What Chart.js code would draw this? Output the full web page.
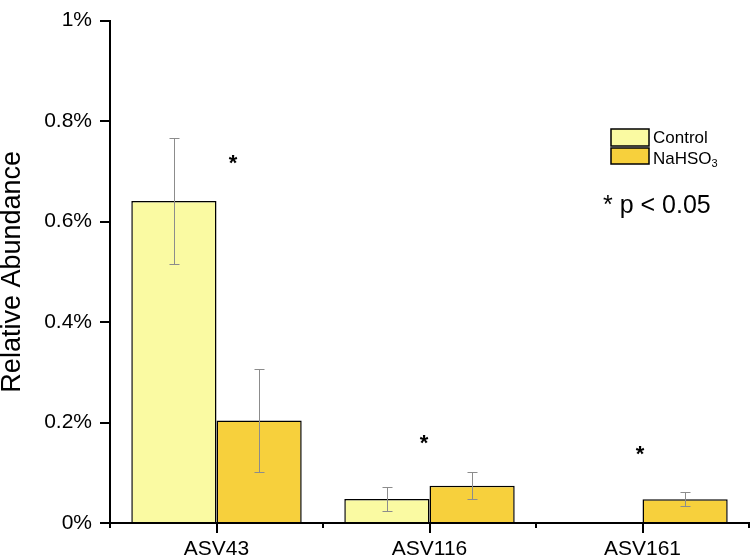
<!DOCTYPE html>
<html>
<head>
<meta charset="utf-8">
<script src="https://cdn.jsdelivr.net/npm/chart.js@4.4.0/dist/chart.umd.min.js"></script>
<style>
  html, body { margin: 0; padding: 0; background: #fff; }
  #wrap { width: 750px; height: 558px; }
</style>
</head>
<body>
<div id="wrap"><canvas id="grafico" width="750" height="558"></canvas></div>
<script>
// Datos (abundancia relativa en %)
const categorias = ['ASV43', 'ASV116', 'ASV161'];
const control = [0.641, 0.048, null];
const controlErr = [0.126, 0.024, null];
const nahso3 = [0.204, 0.074, 0.0475];
const nahso3Err = [0.103, 0.027, 0.0145];
const yTicks = [0, 0.2, 0.4, 0.6, 0.8, 1];
const estrellas = [0.716, 0.16, 0.137]; // altura de los asteriscos
const series = ['Control', 'NaHSO3'];

const FUENTE = '"Liberation Sans", Arial, sans-serif';
const colores = ['#fafaa2', '#f7d03c'];
const errores = [controlErr, nahso3Err];

// barras de error + asteriscos
const extras = {
    id: 'extras',
    afterDatasetsDraw(chart) {
        const ctx = chart.ctx;
        const y = chart.scales.y;
        const x = chart.scales.x;
        ctx.save();
        ctx.strokeStyle = '#8c8c8c';
        ctx.lineWidth = 1;
        chart.data.datasets.forEach((ds, i) => {
            const meta = chart.getDatasetMeta(i);
            meta.data.forEach((bar, j) => {
                const v = ds.data[j];
                const e = errores[i][j];
                if (v == null || e == null) return;
                const px = Math.round(bar.x) + 0.5;
                const yt = Math.round(y.getPixelForValue(v + e)) + 0.5;
                const yb = Math.round(y.getPixelForValue(v - e)) + 0.5;
                ctx.beginPath();
                ctx.moveTo(px, yt); ctx.lineTo(px, yb);
                ctx.moveTo(px - 5, yt); ctx.lineTo(px + 5, yt);
                ctx.moveTo(px - 5, yb); ctx.lineTo(px + 5, yb);
                ctx.stroke();
            });
        });

        // asteriscos
        const desfase = [16.5, -5.5, -2.5];
        const tam = 22;
        ctx.fillStyle = '#000';
        ctx.font = 'bold ' + tam + 'px ' + FUENTE;
        ctx.textAlign = 'center';
        ctx.textBaseline = 'alphabetic';
        estrellas.forEach((s, j) => {
            const cx = x.getPixelForValue(j) + desfase[j];
            const cy = y.getPixelForValue(s);
            ctx.fillText('*', cx, cy + tam * 0.32);
        });

        // marcas menores entre categorias
        ctx.strokeStyle = '#000';
        ctx.lineWidth = 2;
        const ancho = (x.right - x.left) / categorias.length;
        for (let k = 0; k <= categorias.length; k++) {
            const px = x.left + ancho * k;
            ctx.beginPath();
            ctx.moveTo(px, x.top);
            ctx.lineTo(px, x.top + 5);
            ctx.stroke();
        }
        ctx.restore();
    },
    afterDraw(chart) {
        const ctx = chart.ctx;
        ctx.save();
        // leyenda
        const cajas = [[611, 129, 38, 17], [611, 148, 38, 16]];
        cajas.forEach((c, i) => {
            ctx.fillStyle = colores[i];
            ctx.fillRect(c[0], c[1], c[2], c[3]);
            ctx.strokeStyle = '#000';
            ctx.lineWidth = 1.5;
            ctx.strokeRect(c[0], c[1], c[2], c[3]);
        });
        ctx.fillStyle = '#000';
        ctx.textAlign = 'left';
        ctx.textBaseline = 'alphabetic';
        ctx.font = '17px ' + FUENTE;
        ctx.fillText('Control', 653, 143);
        ctx.fillText('NaHSO', 653, 163.5);
        const w = ctx.measureText('NaHSO').width;
        ctx.font = '11px ' + FUENTE;
        ctx.fillText('3', 653 + w, 167);

        ctx.font = '25px ' + FUENTE;
        ctx.fillText('* p < 0.05', 603, 213);
        ctx.restore();
    }
};

const ctx = document.getElementById('grafico').getContext('2d');
new Chart(ctx, {
    type: 'bar',
    data: {
        labels: categorias,
        datasets: [
            { label: series[0], data: control, backgroundColor: colores[0], borderColor: '#000', borderWidth: 1.5 },
            { label: series[1], data: nahso3, backgroundColor: colores[1], borderColor: '#000', borderWidth: 1.5 }
        ]
    },
    options: {
        responsive: false,
        animation: false,
        layout: { padding: { top: 9, right: 1, left: 0, bottom: 0 } },
        datasets: { bar: { categoryPercentage: 0.8, barPercentage: 1.0 } },
        plugins: { legend: { display: false }, tooltip: { enabled: false } },
        scales: {
            x: {
                offset: true,
                grid: { offset: false, drawOnChartArea: false, drawTicks: true, tickLength: 10, color: '#000', lineWidth: 2 },
                border: { color: '#000', width: 2 },
                ticks: { color: '#000', font: { family: FUENTE, size: 21 }, padding: 4, maxRotation: 0 },
                afterFit: (s) => { s.height = 35; }
            },
            y: {
                min: 0,
                max: 1,
                afterBuildTicks: (s) => { s.ticks = yTicks.map(v => ({ value: v })); },
                grid: { drawOnChartArea: false, drawTicks: true, tickLength: 10, color: '#000', lineWidth: 2 },
                border: { color: '#000', width: 2 },
                ticks: {
                    color: '#000',
                    font: { family: FUENTE, size: 21 },
                    padding: 8,
                    callback: (v) => parseFloat(v.toFixed(1)) + '%'
                },
                title: {
                    display: true,
                    text: 'Relative Abundance',
                    color: '#000',
                    font: { family: FUENTE, size: 27, lineHeight: 1 },
                    padding: { top: -1, bottom: 0 }
                },
                afterFit: (s) => { s.width = 110; }
            }
        }
    },
    plugins: [extras]
});
</script>
</body>
</html>
